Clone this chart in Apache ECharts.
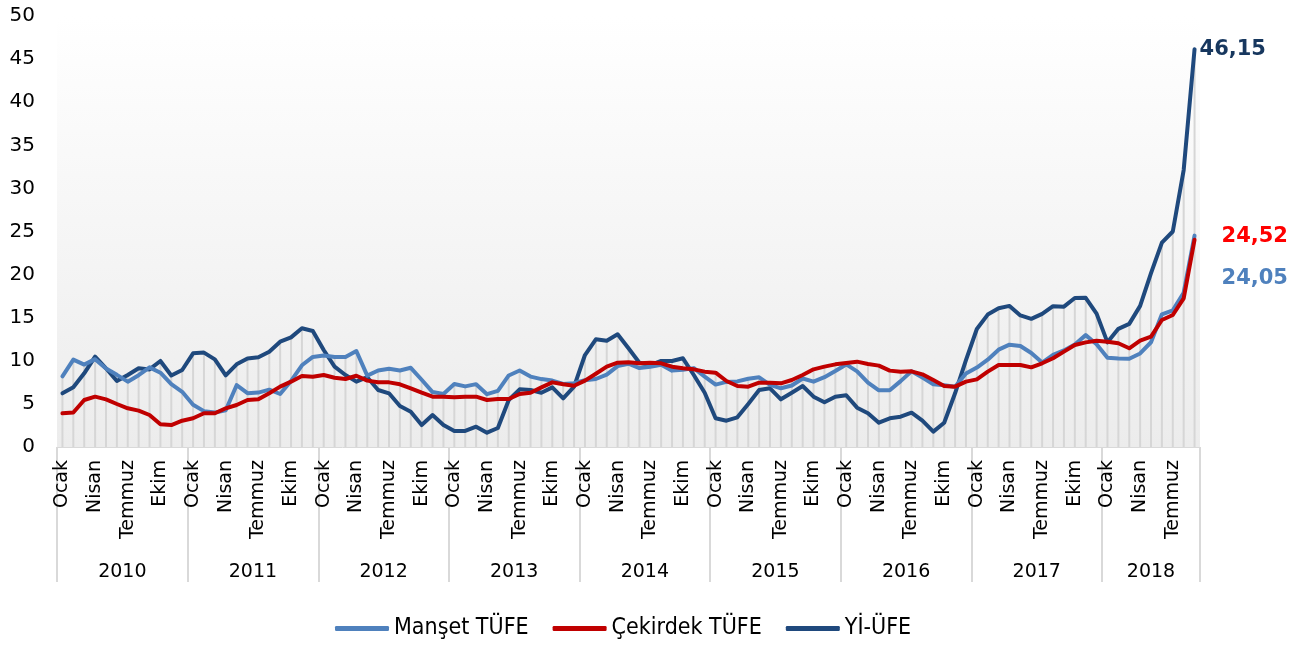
<!DOCTYPE html>
<html><head><meta charset="utf-8">
<script src="https://cdn.jsdelivr.net/npm/echarts@6/dist/echarts.min.js"></script>
<style>html,body{margin:0;padding:0;background:#fff}#c{width:1304px;height:648px}</style>
</head><body><div id="c"></div>
<script>
const years = ['2010','2011','2012','2013','2014','2015','2016','2017','2018'];
const monthNames = ['Ocak','Şubat','Mart','Nisan','Mayıs','Haziran','Temmuz','Ağustos','Eylül','Ekim','Kasım','Aralık'];
const monthsInLastYear = 9;
const yTicks = [0, 50, 5]; // min, max, interval

const mansetTufe = [
  8.19,10.13,9.56,10.19,9.10,8.37,7.58,8.33,9.24,8.62,7.29,6.40,
  4.90,4.16,3.99,4.26,7.17,6.24,6.31,6.65,6.15,7.66,9.48,10.45,
  10.61,10.43,10.43,11.14,8.28,8.87,9.07,8.88,9.19,7.80,6.37,6.16,
  7.31,7.03,7.29,6.13,6.51,8.30,8.88,8.17,7.88,7.71,7.32,7.40,
  7.75,7.89,8.39,9.38,9.66,9.16,9.32,9.54,8.86,8.96,9.15,8.17,
  7.24,7.55,7.61,7.91,8.09,7.20,6.81,7.14,7.95,7.58,8.10,8.81,
  9.58,8.78,7.46,6.57,6.58,7.64,8.79,8.05,7.28,7.16,7.00,8.53,
  9.22,10.13,11.29,11.87,11.72,10.90,9.79,10.68,11.20,11.90,12.98,11.92,
  10.35,10.26,10.23,10.85,12.15,15.39,15.85,17.90,24.52
];
const cekirdekTufe = [
  3.91,4.00,5.45,5.84,5.53,4.99,4.49,4.22,3.71,2.63,2.55,3.05,
  3.33,3.91,3.91,4.49,4.87,5.45,5.53,6.23,7.00,7.58,8.24,8.16,
  8.35,8.04,7.89,8.27,7.70,7.50,7.50,7.27,6.81,6.30,5.84,5.84,
  5.76,5.84,5.84,5.45,5.57,5.57,6.15,6.30,6.92,7.50,7.27,7.11,
  7.70,8.50,9.32,9.78,9.82,9.71,9.78,9.71,9.32,9.13,9.01,8.74,
  8.62,7.66,7.08,7.00,7.46,7.46,7.39,7.77,8.35,9.01,9.32,9.59,
  9.75,9.90,9.63,9.44,8.86,8.74,8.78,8.43,7.77,7.08,7.00,7.58,
  7.85,8.74,9.51,9.51,9.51,9.24,9.71,10.29,11.06,11.83,12.14,12.33,
  12.22,12.03,11.45,12.33,12.80,14.73,15.31,17.25,24.05
];
const yiUfe = [
  6.23,6.92,8.55,10.48,9.13,7.66,8.35,9.13,9.00,9.98,8.30,8.93,
  10.87,10.95,10.17,8.31,9.59,10.28,10.40,11.06,12.22,12.72,13.77,13.46,
  11.25,9.32,8.35,7.58,8.10,6.61,6.23,4.76,4.10,2.55,3.71,2.55,
  1.86,1.86,2.36,1.66,2.20,5.45,6.69,6.61,6.30,6.92,5.65,7.00,
  10.67,12.49,12.33,13.07,11.45,9.78,9.51,9.98,9.98,10.29,8.35,6.30,
  3.33,3.05,3.44,4.99,6.61,6.81,5.53,6.30,7.08,5.84,5.18,5.84,
  6.00,4.56,3.91,2.82,3.33,3.52,3.98,3.05,1.78,2.82,6.23,10.08,
  13.69,15.36,16.09,16.37,15.26,14.87,15.45,16.34,16.28,17.28,17.30,15.47,
  12.14,13.71,14.28,16.37,20.16,23.71,25.00,32.13,46.15
];
const seriesNames = ['Manşet TÜFE','Çekirdek TÜFE','Yİ-ÜFE'];

// categories
const categories = [];
const yearLen = years.map((y,k)=> k===years.length-1 ? monthsInLastYear : 12);
years.forEach((y,k)=>{ for(let m=0;m<yearLen[k];m++) categories.push(monthNames[m]+' '+y); });
const monthLabels = categories.map(c=>c.split(' ')[0]);
// year axis on half-month grid
const nHalf = categories.length*2+1;
const yearAxisData = new Array(nHalf).fill('');
const yearBounds = new Set();
let start=0;
years.forEach((y,k)=>{ yearBounds.add(start); yearAxisData[start+yearLen[k]] = y; start += yearLen[k]*2; });
yearBounds.add(nHalf-1);
const dropLine = categories.map((c,i)=>Math.max(mansetTufe[i],cekirdekTufe[i],yiUfe[i]));

const fmt = p => (typeof p.value==='number'?p.value:p.value[1]).toFixed(2).replace('.',',');
const FONT = 'DejaVu Sans';
const chart = echarts.init(document.getElementById('c'), null, {renderer:'canvas'});
chart.setOption({
  animation:false,
  textStyle:{fontFamily:FONT},
  grid:{left:57,right:104,top:16,bottom:201,show:true,borderWidth:0,
    backgroundColor:new echarts.graphic.LinearGradient(0,0,0,1,[{offset:0,color:'#ffffff'},{offset:1,color:'#ececec'}])},
  legend:{data:seriesNames,bottom:3,left:330,icon:'roundRect',itemWidth:54,itemHeight:5,itemGap:24,
    textStyle:{fontSize:23,color:'#000',fontFamily:'DejaVu Sans Condensed, Liberation Sans'}},
  xAxis:[{
    type:'category',data:monthLabels,boundaryGap:true,
    axisLine:{show:true,lineStyle:{color:'#d9d9d9',width:1}},
    axisTick:{show:false},
    axisLabel:{interval:2,rotate:90,fontSize:19,color:'#000',margin:13,fontFamily:FONT}
  },{
    type:'category',data:yearAxisData,boundaryGap:false,position:'bottom',
    axisLine:{show:false},
    axisTick:{show:true,interval:(i)=>yearBounds.has(i),length:135,lineStyle:{color:'#d9d9d9',width:2}},
    axisLabel:{interval:(i)=>yearAxisData[i]!=='',fontSize:19,color:'#000',margin:116,fontFamily:FONT}
  }],
  yAxis:{type:'value',min:yTicks[0],max:yTicks[1],interval:yTicks[2],
    axisLine:{show:false},axisTick:{show:false},splitLine:{show:false},
    axisLabel:{fontSize:20,color:'#000',margin:22,fontFamily:FONT}},
  series:[
    {type:'bar',data:dropLine,barWidth:2,itemStyle:{color:'#d6d6d6'},silent:true,z:1,legendHoverLink:false},
    {name:seriesNames[0],type:'line',data:mansetTufe,symbol:'none',z:3,
      lineStyle:{color:'#4F81BD',width:4,cap:'round',join:'round'},itemStyle:{color:'#4F81BD'},
      endLabel:{show:true,formatter:fmt,color:'#FF0000',fontWeight:'bold',fontSize:21,distance:27,offset:[0,1],fontFamily:FONT}},
    {name:seriesNames[1],type:'line',data:cekirdekTufe,symbol:'none',z:4,
      lineStyle:{color:'#C00000',width:4,cap:'round',join:'round'},itemStyle:{color:'#C00000'},
      endLabel:{show:true,formatter:fmt,color:'#4F81BD',fontWeight:'bold',fontSize:21,distance:27,offset:[0,39],fontFamily:FONT}},
    {name:seriesNames[2],type:'line',data:yiUfe,symbol:'none',z:2,
      lineStyle:{color:'#1F497D',width:4,cap:'round',join:'round'},itemStyle:{color:'#1F497D'},
      endLabel:{show:true,formatter:fmt,color:'#17375E',fontWeight:'bold',fontSize:21,distance:5,fontFamily:FONT}}
  ]
});
</script></body></html>
